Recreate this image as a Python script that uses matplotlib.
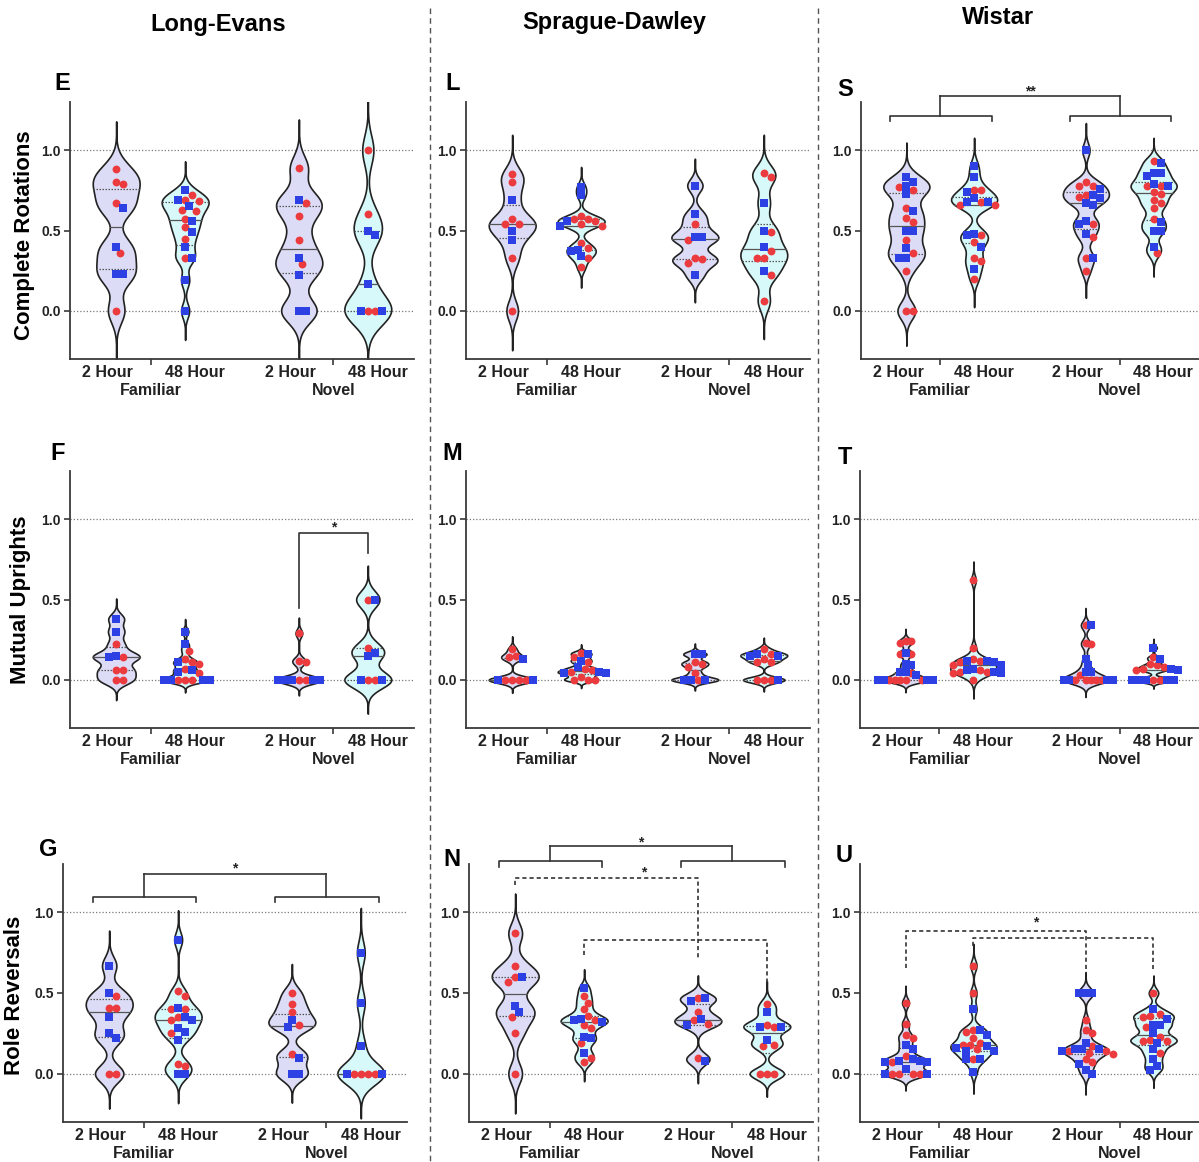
import numpy as np
import matplotlib
matplotlib.use("Agg")
import matplotlib.pyplot as plt
from matplotlib.lines import Line2D

# ---------------- data ----------------
STRAINS = ["Long-Evans", "Sprague-Dawley", "Wistar"]
MEASURES = ["Complete Rotations", "Mutual Uprights", "Role Reversals"]
TIMES = ["2 Hour", "48 Hour"]
CONDITIONS = ["Familiar", "Novel"]
PANEL_LETTERS = [["E", "L", "S"], ["F", "M", "T"], ["G", "N", "U"]]
Y_TICKS = [0.0, 0.5, 1.0]

# order of groups in each list: Familiar-2h, Familiar-48h, Novel-2h, Novel-48h
LE_ROT_RED = [[0.88, 0.79, 0.80, 0.67, 0.36, 0.0],
              [0.72, 0.685, 0.69, 0.62, 0.63, 0.57, 0.52, 0.45, 0.33],
              [0.89, 0.67, 0.59, 0.44, 0.29],
              [1.0, 0.60, 0.0, 0.0]]
LE_ROT_BLUE = [[0.64, 0.40, 0.23, 0.23],
               [0.75, 0.69, 0.65, 0.56, 0.49, 0.40, 0.33, 0.19, 0.0],
               [0.69, 0.33, 0.22, 0.0, 0.0],
               [0.50, 0.47, 0.17, 0.0, 0.0]]
SD_ROT_RED = [[0.85, 0.80, 0.57, 0.54, 0.54, 0.33, 0.0],
              [0.59, 0.57, 0.53, 0.57, 0.54, 0.56, 0.42, 0.39, 0.33, 0.27],
              [0.54, 0.44, 0.33, 0.30, 0.32],
              [0.83, 0.86, 0.49, 0.37, 0.33, 0.33, 0.22, 0.06]]
SD_ROT_BLUE = [[0.69, 0.50, 0.44],
               [0.77, 0.72, 0.56, 0.53, 0.37, 0.38, 0.34],
               [0.78, 0.60, 0.46, 0.46, 0.22],
               [0.67, 0.50, 0.40, 0.25]]
WI_ROT_RED = [[0.77, 0.75, 0.64, 0.58, 0.55, 0.44, 0.36, 0.25, 0.0, 0.0],
              [0.75, 0.75, 0.68, 0.66, 0.66, 0.47, 0.43, 0.33, 0.31, 0.20],
              [0.78, 0.78, 0.80, 0.71, 0.72, 0.54, 0.46, 0.33, 0.25],
              [0.93, 0.78, 0.78, 0.73, 0.74, 0.69, 0.67, 0.64, 0.57, 0.36]]
WI_ROT_BLUE = [[0.83, 0.78, 0.73, 0.80, 0.62, 0.50, 0.50, 0.39, 0.33, 0.33],
               [0.90, 0.83, 0.74, 0.70, 0.68, 0.68, 0.48, 0.47, 0.40, 0.26],
               [1.0, 0.72, 0.76, 0.70, 0.66, 0.67, 0.54, 0.56, 0.48, 0.33],
               [0.92, 0.86, 0.86, 0.84, 0.79, 0.78, 0.55, 0.50, 0.50, 0.40]]

LE_MU_RED = [[0.22, 0.14, 0.06, 0.06, 0.0, 0.0],
             [0.18, 0.13, 0.11, 0.10, 0.07, 0.04, 0.0, 0.0, 0.0],
             [0.29, 0.12, 0.11, 0.0, 0.0],
             [0.50, 0.20, 0.0, 0.0]]
LE_MU_BLUE = [[0.38, 0.30, 0.14, 0.15],
              [0.30, 0.22, 0.11, 0.05, 0.06, 0.0, 0.0, 0.0, 0.0],
              [0.0, 0.0, 0.0, 0.0, 0.0],
              [0.50, 0.15, 0.17, 0.0, 0.0]]
SD_MU_RED = [[0.19, 0.15, 0.14, 0.0, 0.0, 0.0, 0.0],
             [0.17, 0.14, 0.11, 0.07, 0.05, 0.06, 0.02, 0.0, 0.0, 0.0],
             [0.11, 0.10, 0.08, 0.04, 0.0],
             [0.19, 0.16, 0.13, 0.11, 0.11, 0.0, 0.0, 0.0]]
SD_MU_BLUE = [[0.13, 0.0, 0.0],
              [0.16, 0.12, 0.08, 0.04, 0.04, 0.05],
              [0.16, 0.16, 0.0, 0.0, 0.0],
              [0.15, 0.15, 0.16, 0.0]]
WI_MU_RED = [[0.23, 0.24, 0.24, 0.16, 0.16, 0.04, 0.0, 0.0, 0.0, 0.0, 0.0],
             [0.62, 0.20, 0.13, 0.12, 0.11, 0.09, 0.06, 0.05, 0.05, 0.04, 0.0],
             [0.34, 0.23, 0.22, 0.03, 0.0, 0.0, 0.0, 0.0, 0.0],
             [0.14, 0.10, 0.09, 0.08, 0.07, 0.06, 0.0, 0.0]]
WI_MU_BLUE = [[0.17, 0.10, 0.09, 0.05, 0.05, 0.03, 0.0, 0.0, 0.0, 0.0],
              [0.12, 0.12, 0.11, 0.09, 0.07, 0.06, 0.04, 0.05],
              [0.34, 0.13, 0.09, 0.05, 0.05, 0.0, 0.0, 0.0, 0.0],
              [0.20, 0.13, 0.07, 0.06, 0.0, 0.0, 0.0, 0.0, 0.0]]

LE_RR_RED = [[0.48, 0.41, 0.41, 0.0, 0.0],
             [0.51, 0.48, 0.40, 0.40, 0.33, 0.35, 0.25, 0.05, 0.06],
             [0.50, 0.43, 0.38, 0.30, 0.12],
             [0.0, 0.0, 0.0, 0.0]]
LE_RR_BLUE = [[0.67, 0.50, 0.35, 0.25, 0.22],
              [0.83, 0.41, 0.33, 0.35, 0.26, 0.28, 0.21, 0.0, 0.0],
              [0.33, 0.29, 0.10, 0.0, 0.0],
              [0.75, 0.44, 0.17, 0.0, 0.0]]
SD_RR_RED = [[0.87, 0.67, 0.60, 0.57, 0.35, 0.25, 0.0],
             [0.48, 0.44, 0.40, 0.36, 0.33, 0.30, 0.28, 0.19, 0.10, 0.07],
             [0.47, 0.38, 0.33, 0.31, 0.10],
             [0.43, 0.29, 0.30, 0.18, 0.17, 0.0, 0.0, 0.0]]
SD_RR_BLUE = [[0.60, 0.42, 0.38],
              [0.53, 0.33, 0.32, 0.34, 0.22, 0.23, 0.13],
              [0.45, 0.47, 0.34, 0.30, 0.08],
              [0.38, 0.29, 0.29, 0.21]]
WI_RR_RED = [[0.44, 0.31, 0.24, 0.22, 0.11, 0.07, 0.0, 0.0, 0.0, 0.0],
             [0.67, 0.50, 0.27, 0.26, 0.22, 0.19, 0.18, 0.18, 0.15, 0.09],
             [0.33, 0.27, 0.25, 0.17, 0.14, 0.14, 0.13, 0.12, 0.09, 0.07],
             [0.50, 0.37, 0.36, 0.35, 0.29, 0.23, 0.21, 0.20, 0.20, 0.13]]
WI_RR_BLUE = [[0.18, 0.15, 0.09, 0.08, 0.07, 0.07, 0.08, 0.03, 0.0, 0.0],
              [0.40, 0.27, 0.24, 0.16, 0.17, 0.14, 0.14, 0.09, 0.09, 0.01],
              [0.50, 0.50, 0.50, 0.19, 0.15, 0.15, 0.14, 0.15, 0.06, 0.02, 0.0],
              [0.40, 0.34, 0.30, 0.30, 0.25, 0.19, 0.15, 0.09, 0.05, 0.02]]

RED_DATA = [[LE_ROT_RED, SD_ROT_RED, WI_ROT_RED],
            [LE_MU_RED, SD_MU_RED, WI_MU_RED],
            [LE_RR_RED, SD_RR_RED, WI_RR_RED]]
BLUE_DATA = [[LE_ROT_BLUE, SD_ROT_BLUE, WI_ROT_BLUE],
             [LE_MU_BLUE, SD_MU_BLUE, WI_MU_BLUE],
             [LE_RR_BLUE, SD_RR_BLUE, WI_RR_BLUE]]

# ---------------- style / layout ----------------
plt.rcParams["font.family"] = ["Liberation Sans", "DejaVu Sans"]
plt.rcParams["font.weight"] = "bold"

W, H = 1199, 1162
fig = plt.figure(figsize=(W / 100, H / 100), dpi=100)
fig.patch.set_facecolor("white")

POS = [0.0, 1.0, 2.65, 3.65]
XLIM = (-0.67, 4.32)
YLIM = (-0.3, 1.3)
HALF_W = 0.34
BW_FACTOR = 0.4
CUT = 4.0
FILL = ["#DCDCF7", "#D8F9F9"]
RED = "#EC3B3E"
BLUE = "#2C40E4"
INK = "#222222"

AX_RECTS = {
    (0, 0): (70, 102, 414, 359), (0, 1): (466, 102, 810, 359), (0, 2): (861, 102, 1199, 359),
    (1, 0): (70, 471, 414, 728), (1, 1): (466, 471, 810, 728), (1, 2): (860, 471, 1199, 728),
    (2, 0): (63, 864, 407, 1122), (2, 1): (469, 864, 813, 1122), (2, 2): (860, 864, 1199, 1122),
}
LETTER_XY = {(0, 0): (62, 83), (0, 1): (453, 83), (0, 2): (845, 90),
             (1, 0): (58, 453), (1, 1): (452, 453), (1, 2): (845, 458),
             (2, 0): (48, 850), (2, 1): (452, 860), (2, 2): (844, 855)}
TITLE_XY = [(218, 24), (614, 22), (998, 18)]
YLABEL_XY = [(25, 235), (21, 600), (15, 995)]

# significance annotations
TWO_LEVEL = {(0, 2): (1.214, 1.34, 1.387, "**"),
             (2, 0): (1.097, 1.24, 1.29, "*"),
             (2, 1): (1.316, 1.41, 1.455, "*")}
SIMPLE = {(1, 0): (2, 3, 0.445, 0.917, 0.79, 0.97, "*")}
DASHED = {(2, 1): ([(0, 1.168, 2, 0.716, 1.213), (1, 0.737, 3, 0.554, 0.827)], (1.86, 1.27)),
          (2, 2): ([(0, 0.658, 2, 0.648, 0.886), (1, 0.789, 3, 0.648, 0.843)], (1.91, 0.959))}


def px_rect(left, top, right, bottom):
    return [left / W, 1 - bottom / H, (right - left) / W, (bottom - top) / H]


def violin(ax, x, vals, color):
    v = np.asarray(vals, float)
    n = len(v)
    bw = max(BW_FACTOR * v.std(ddof=1) * n ** (-0.2), 0.01)
    ys = np.linspace(v.min() - CUT * bw, v.max() + CUT * bw, 600)
    dens = np.exp(-0.5 * ((ys[:, None] - v[None, :]) / bw) ** 2).sum(1)
    half = dens / dens.max() * HALF_W
    ax.fill_betweenx(ys, x - half, x + half, facecolor=color, edgecolor=INK,
                     linewidth=1.2, zorder=2)
    q1, med, q3 = np.percentile(v, [25, 50, 75])
    for q, ls in ((q1, (0, (1.2, 1.2))), (med, "-"), (q3, (0, (1.2, 1.2)))):
        w = np.interp(q, ys, half)
        ax.plot([x - w, x + w], [q, q], color="#555555", lw=0.9, ls=ls, zorder=3)


def swarm(vals, xu, yu, d=7.0, step=3.5, limit=0.40):
    v = np.asarray(vals, float)
    order = np.argsort(-v, kind="stable")
    placed = []
    off = np.zeros(len(v))
    cands = [0]
    for j in range(1, 60):
        cands += [j, -j]
    for i in order:
        yp = v[i] * yu
        xp = 0.0
        for k in cands:
            xp = k * step
            if all((xp - a) ** 2 + (yp - b) ** 2 >= d * d for a, b in placed):
                break
        placed.append((xp, yp))
        off[i] = xp / xu
    m = np.abs(off).max()
    if m > limit:
        off *= limit / m
    return off


for r in range(3):
    for c in range(3):
        rect = AX_RECTS[(r, c)]
        ax = fig.add_axes(px_rect(*rect))
        ax.set_xlim(*XLIM)
        ax.set_ylim(*YLIM)
        ax.patch.set_alpha(0)
        for s in ("top", "right"):
            ax.spines[s].set_visible(False)
        for s in ("left", "bottom"):
            ax.spines[s].set_linewidth(1.3)
            ax.spines[s].set_color("#3a3a3a")
        ax.set_yticks(Y_TICKS)
        ax.set_yticklabels([f"{t:.1f}" for t in Y_TICKS], fontsize=10,
                           fontweight="bold", color=INK)
        ax.set_xticks([(POS[0] + POS[1]) / 2, (POS[2] + POS[3]) / 2])
        ax.set_xticklabels([])
        ax.tick_params(length=4, width=1.2, color="#3a3a3a", pad=2.5)
        for yv in (0.0, 1.0):
            ax.axhline(yv, color="#7a7a7a", lw=0.9, ls=(0, (1, 1.6)), zorder=1)

        xu = (rect[2] - rect[0]) / (XLIM[1] - XLIM[0])
        yu = (rect[3] - rect[1]) / (YLIM[1] - YLIM[0])
        reds = RED_DATA[r][c]
        blues = BLUE_DATA[r][c]
        for g in range(4):
            x = POS[g]
            allv = list(reds[g]) + list(blues[g])
            violin(ax, x, allv, FILL[g % 2])
            off = swarm(allv, xu, yu)
            nr = len(reds[g])
            ax.scatter(x + off[:nr], reds[g], s=32, marker="o", color=RED,
                       linewidths=0, zorder=5)
            ax.scatter(x + off[nr:], blues[g], s=28, marker="s", color=BLUE,
                       linewidths=0, zorder=5)

        # category labels
        tr = ax.get_xaxis_transform()
        for ci, cond in enumerate(CONDITIONS):
            gc = (POS[2 * ci] + POS[2 * ci + 1]) / 2
            for ti, t in enumerate(TIMES):
                ax.annotate(t, xy=(gc + (-0.62 if ti == 0 else 0.64), 0), xycoords=tr,
                            xytext=(0, -9.5), textcoords="offset points",
                            ha="center", va="center", fontsize=11.5,
                            fontweight="bold", color=INK, annotation_clip=False)
            ax.annotate(cond, xy=(gc, 0), xycoords=tr, xytext=(0, -23),
                        textcoords="offset points", ha="center", va="center",
                        fontsize=11.5, fontweight="bold", color=INK,
                        annotation_clip=False)

        lk = dict(color="#333333", lw=1.2, clip_on=False, zorder=6)
        if (r, c) in TWO_LEVEL:
            ylow, ytop, ystar, lab = TWO_LEVEL[(r, c)]
            drop = 0.035
            centers = []
            for ci in range(2):
                a, b = POS[2 * ci] - 0.24, POS[2 * ci + 1] + 0.26
                ax.plot([a, a, b, b], [ylow - drop, ylow, ylow, ylow - drop], **lk)
                m = (POS[2 * ci] + POS[2 * ci + 1]) / 2
                centers.append(m)
                ax.plot([m, m], [ylow, ytop], **lk)
            ax.plot(centers, [ytop, ytop], **lk)
            ax.text(sum(centers) / 2, ystar - 0.02, lab, ha="center", va="center",
                    fontsize=10, color=INK, clip_on=False)
        if (r, c) in SIMPLE:
            g1, g2, y1, yt, y2, ys_, lab = SIMPLE[(r, c)]
            ax.plot([POS[g1], POS[g1], POS[g2], POS[g2]], [y1, yt, yt, y2], **lk)
            ax.text((POS[g1] + POS[g2]) / 2, ys_ - 0.02, lab, ha="center",
                    va="center", fontsize=10, color=INK, clip_on=False)
        if (r, c) in DASHED:
            segs, (sx, sy) = DASHED[(r, c)]
            for g1, y1, g2, y2, yt in segs:
                ax.plot([POS[g1], POS[g1], POS[g2], POS[g2]], [y1, yt, yt, y2],
                        color="#333333", lw=1.2, ls=(0, (2.5, 1.8)),
                        clip_on=False, zorder=6)
            ax.text(sx, sy - 0.02, "*", ha="center", va="center", fontsize=10,
                    color=INK, clip_on=False)

        lx, ly = LETTER_XY[(r, c)]
        fig.text(lx / W, 1 - ly / H, PANEL_LETTERS[r][c], ha="center", va="center",
                 fontsize=17, fontweight="bold", color="black")

for c, (tx, ty) in enumerate(TITLE_XY):
    fig.text(tx / W, 1 - ty / H, STRAINS[c], ha="center", va="center",
             fontsize=17, fontweight="bold", color="black")
for r, (tx, ty) in enumerate(YLABEL_XY):
    fig.text(tx / W, 1 - ty / H, MEASURES[r], ha="center", va="center",
             rotation=90, fontsize=16, fontweight="bold", color="black")

for sx in (430, 818):
    fig.add_artist(Line2D([sx / W, sx / W], [1 - 8 / H, 0], transform=fig.transFigure,
                          color="#555555", lw=1.0, ls=(0, (4, 3))))

fig.savefig("out.png", dpi=100, facecolor="white")
